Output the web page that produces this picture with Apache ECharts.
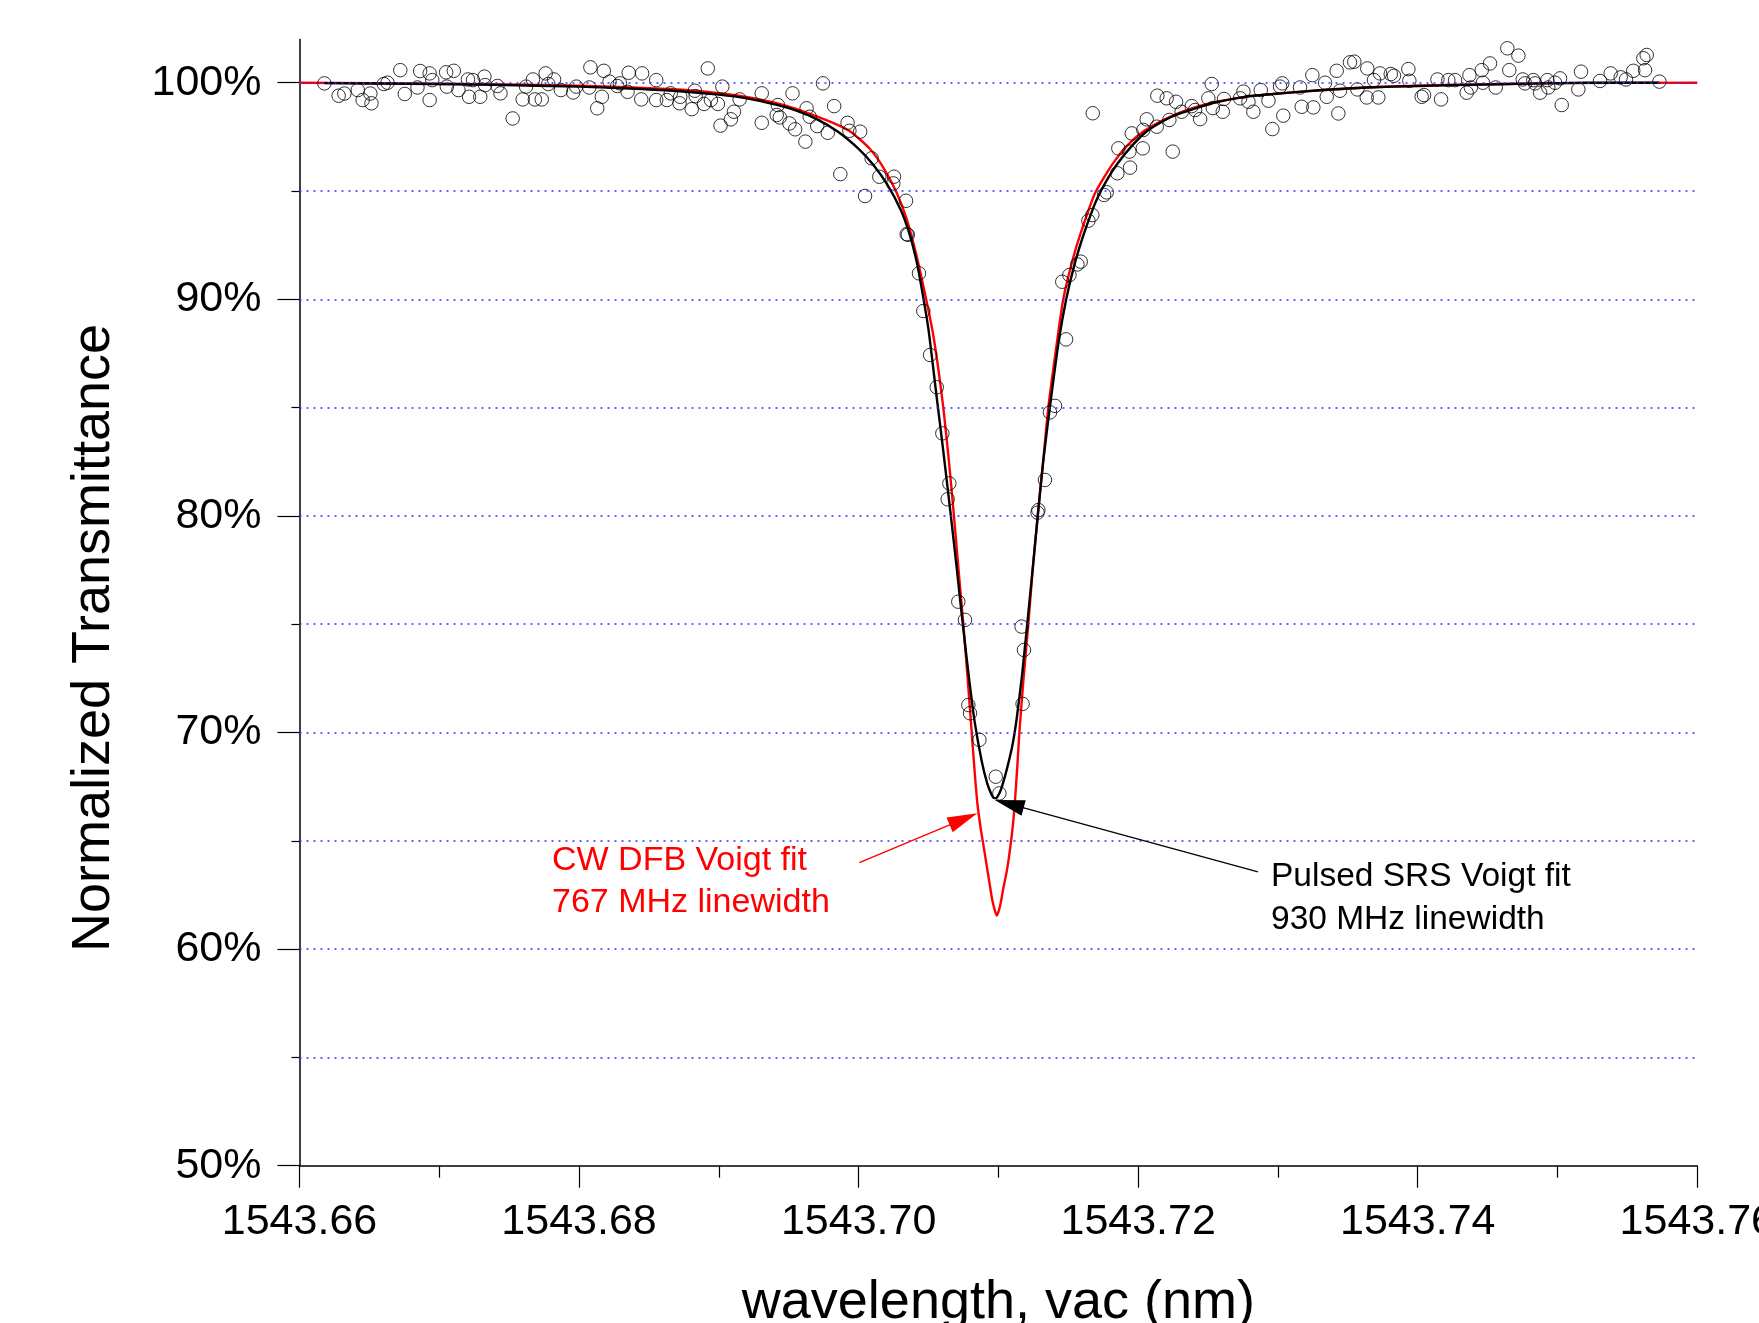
<!DOCTYPE html>
<html>
<head>
<meta charset="utf-8">
<script src="https://cdn.jsdelivr.net/npm/echarts@6.0.0/dist/echarts.min.js"></script>
<style>
html,body{margin:0;padding:0;background:#fff;}
#chart{width:1759px;height:1323px;}
</style>
</head>
<body>
<div id="chart"></div>
<script>
// ---------- data (wavelength in nm, normalized transmittance in %) ----------
const measuredLeftWing = [[1543.66178,99.97],[1543.66280,99.40],[1543.66321,99.50],[1543.66417,99.66],[1543.66452,99.20],[1543.66507,99.50],[1543.66515,99.05],[1543.66603,99.94],[1543.66630,100.00],[1543.66721,100.58],[1543.66753,99.48],[1543.66844,99.78],[1543.66863,100.54],[1543.66931,100.43],[1543.66950,100.12],[1543.66931,99.20],[1543.67049,100.48],[1543.67104,100.55],[1543.67054,99.82],[1543.67137,99.66],[1543.67205,100.15],[1543.67241,100.12],[1543.67213,99.35],[1543.67293,99.35],[1543.67323,100.28],[1543.67328,99.89],[1543.67416,99.85],[1543.67438,99.51],[1543.67525,98.35],[1543.67597,99.23],[1543.67621,99.82],[1543.67670,100.15],[1543.67684,99.23],[1543.67733,99.23],[1543.67761,100.43],[1543.67821,100.15],[1543.67780,99.94],[1543.67870,99.66],[1543.67958,99.55],[1543.67980,99.82],[1543.68081,100.71],[1543.68073,99.78],[1543.68163,99.35],[1543.68177,100.55],[1543.68130,98.82],[1543.68218,100.05],[1543.68273,99.85],[1543.68292,99.97],[1543.68355,100.46],[1543.68347,99.58],[1543.68451,100.43],[1543.68445,99.23],[1543.68552,100.12],[1543.68552,99.20],[1543.68628,99.20],[1543.68656,99.51],[1543.68719,99.05],[1543.68724,99.35],[1543.68806,98.78],[1543.68828,99.63],[1543.68834,99.38],[1543.68894,99.02],[1543.68921,100.66],[1543.68943,99.20],[1543.68993,99.02],[1543.69025,99.82],[1543.69012,98.02],[1543.69086,98.31],[1543.69108,98.66],[1543.69149,99.23],[1543.69307,99.51],[1543.69307,98.15],[1543.69422,98.97],[1543.69414,98.51],[1543.69436,98.40],[1543.69505,98.12],[1543.69527,99.51],[1543.69546,97.85],[1543.69619,97.28],[1543.69628,98.82],[1543.69650,98.43],[1543.69704,98.00],[1543.69745,99.97],[1543.69779,97.69],[1543.69825,98.92],[1543.69921,98.15],[1543.69934,97.78],[1543.70011,97.74],[1543.69869,95.78],[1543.70093,96.51],[1543.70148,95.66],[1543.70046,94.77]];

const measuredDip = [[1543.70253,95.66],[1543.70248,95.35],[1543.70339,94.55],[1543.70344,93.01],[1543.70352,92.98],[1543.70432,91.20],[1543.70463,89.46],[1543.70511,87.43],[1543.70559,85.94],[1543.70599,83.81],[1543.70649,81.50],[1543.70637,80.77],[1543.70713,76.04],[1543.70761,75.20],[1543.70785,71.27],[1543.70797,70.89],[1543.70864,69.66],[1543.70981,67.96],[1543.71007,67.19],[1543.71173,71.32],[1543.71166,74.89],[1543.71183,73.81],[1543.71280,80.15],[1543.71286,80.27],[1543.71333,81.66],[1543.71369,84.78],[1543.71405,85.08],[1543.71484,88.15],[1543.71457,90.81],[1543.71508,91.12],[1543.71565,91.61],[1543.71589,91.74],[1543.71644,93.63],[1543.71672,93.89],[1543.71756,94.82],[1543.71775,94.94],[1543.71851,95.82]];

const measuredRightWing = [[1543.71858,96.97],[1543.71937,96.82],[1543.71942,96.08],[1543.71954,97.66],[1543.72033,96.97],[1543.72037,97.82],[1543.72061,98.31],[1543.72133,97.97],[1543.72137,99.40],[1543.72204,99.28],[1543.72247,96.82],[1543.72271,99.12],[1543.72223,98.28],[1543.71675,98.59],[1543.72311,98.66],[1543.72383,98.92],[1543.72407,98.74],[1543.72443,98.32],[1543.72502,99.28],[1543.72526,99.94],[1543.72534,98.83],[1543.72605,98.66],[1543.72614,99.25],[1543.72729,99.28],[1543.72753,99.59],[1543.72789,99.12],[1543.72824,98.66],[1543.72877,99.66],[1543.72932,99.17],[1543.72960,97.86],[1543.73015,99.82],[1543.73031,99.97],[1543.73038,98.48],[1543.73158,99.78],[1543.73170,98.89],[1543.73246,100.35],[1543.73253,98.86],[1543.73337,100.00],[1543.73349,99.35],[1543.73420,100.55],[1543.73432,98.58],[1543.73444,99.63],[1543.73515,100.94],[1543.73546,100.97],[1543.73568,99.69],[1543.73635,99.32],[1543.73639,100.66],[1543.73687,100.12],[1543.73718,99.32],[1543.73730,100.43],[1543.73807,100.40],[1543.73830,100.32],[1543.73933,100.63],[1543.73940,100.09],[1543.74028,99.35],[1543.74045,99.43],[1543.74141,100.15],[1543.74167,99.23],[1543.74219,100.12],[1543.74267,100.12],[1543.74350,99.54],[1543.74370,100.35],[1543.74380,99.78],[1543.74458,100.58],[1543.74466,100.00],[1543.74517,100.89],[1543.74558,99.78],[1543.74641,101.59],[1543.74655,100.58],[1543.74720,101.25],[1543.74751,100.15],[1543.74767,99.97],[1543.74827,100.12],[1543.74839,99.97],[1543.74875,99.54],[1543.74927,100.12],[1543.74934,99.78],[1543.74982,100.00],[1543.75018,100.20],[1543.75030,98.97],[1543.75132,102.25],[1543.75149,99.69],[1543.75168,100.51],[1543.75304,100.08],[1543.75380,100.43],[1543.75435,102.25],[1543.75452,100.25],[1543.75490,100.15],[1543.75542,100.55],[1543.75614,101.13],[1543.75626,100.58],[1543.75638,101.28],[1543.75729,100.05]];

const pulsedSrsFit = [[1543.66178,99.98],[1543.668,99.95],[1543.674,99.90],[1543.680,99.82],[1543.684,99.72],[1543.687,99.62],[1543.690,99.45],[1543.692,99.28],[1543.694,99.00],[1543.6955,98.72],[1543.697,98.32],[1543.6985,97.75],[1543.700,96.95],[1543.701,96.25],[1543.702,95.35],[1543.703,94.15],[1543.7036,93.10],[1543.70415,91.75],[1543.7045,90.55],[1543.705,88.60],[1543.7056,85.40],[1543.706,83.30],[1543.7066,80.00],[1543.707,77.70],[1543.7074,75.30],[1543.7079,72.50],[1543.7083,70.50],[1543.7088,68.70],[1543.7092,67.65],[1543.7095,67.15],[1543.7097,66.97],[1543.7099,67.00],[1543.7102,67.40],[1543.7106,68.30],[1543.7110,69.40],[1543.7113,70.60],[1543.7117,72.70],[1543.7120,74.60],[1543.7124,77.20],[1543.7128,79.90],[1543.7132,82.50],[1543.7137,85.10],[1543.7143,88.00],[1543.71485,90.00],[1543.7154,91.50],[1543.7160,92.80],[1543.7166,93.90],[1543.7171,94.70],[1543.7178,95.55],[1543.7185,96.25],[1543.7195,97.05],[1543.7206,97.75],[1543.7220,98.30],[1543.7230,98.58],[1543.7245,98.90],[1543.7256,99.10],[1543.7280,99.38],[1543.7304,99.52],[1543.7330,99.65],[1543.7363,99.78],[1543.7400,99.85],[1543.7435,99.90],[1543.7480,99.96],[1543.7520,100.00],[1543.75729,100.00]];

const cwDfbFit = [[1543.660,100.00],[1543.670,99.96],[1543.680,99.86],[1543.6867,99.70],[1543.690,99.52],[1543.6922,99.32],[1543.6949,98.92],[1543.69765,98.28],[1543.6994,97.75],[1543.7008,96.95],[1543.7018,96.05],[1543.7027,94.95],[1543.70344,93.70],[1543.70415,92.00],[1543.7048,90.10],[1543.7053,88.50],[1543.7057,86.80],[1543.70606,85.00],[1543.70645,82.60],[1543.70682,80.00],[1543.70715,77.50],[1543.70749,75.00],[1543.7078,72.50],[1543.70809,70.00],[1543.7083,68.20],[1543.7085,66.70],[1543.70875,65.50],[1543.70898,64.60],[1543.7092,63.70],[1543.7094,62.90],[1543.70955,62.30],[1543.70972,61.85],[1543.70988,61.55],[1543.71004,61.80],[1543.7102,62.25],[1543.71035,62.80],[1543.7106,63.60],[1543.71085,64.70],[1543.71105,65.80],[1543.7112,67.00],[1543.71135,68.40],[1543.7115,70.00],[1543.7118,72.50],[1543.71214,75.00],[1543.71245,77.50],[1543.71281,80.00],[1543.7132,82.50],[1543.71357,85.00],[1543.7141,87.60],[1543.71464,90.00],[1543.7153,91.80],[1543.71591,93.10],[1543.71691,94.90],[1543.71822,96.30],[1543.7193,97.15],[1543.72049,97.80],[1543.72228,98.43],[1543.724,98.85],[1543.72562,99.12],[1543.728,99.38],[1543.7304,99.52],[1543.733,99.65],[1543.7363,99.78],[1543.740,99.86],[1543.744,99.92],[1543.750,99.98],[1543.760,100.00]];

const xTickValues = [1543.66, 1543.68, 1543.70, 1543.72, 1543.74, 1543.76];
const yMajorTicks = [50, 60, 70, 80, 90, 100];
const yMinorTicks = [55, 65, 75, 85, 95];
const gridLevels = [55, 60, 65, 70, 75, 80, 85, 90, 95, 100];

const cwArrow = [[1543.70005, 63.99], [1543.70750, 66.00]];
const pulsedArrow = [[1543.72857, 63.57], [1543.71077, 66.70]];

const cwLabel = ['CW DFB Voigt fit', '767 MHz linewidth'];
const pulsedLabel = ['Pulsed SRS Voigt fit', '930 MHz linewidth'];
const xTitle = 'wavelength, vac (nm)';
const yTitle = 'Normalized Transmittance';

// ---------- chart ----------
const FONT = "'Liberation Sans', Arial, Helvetica, sans-serif";
const chart = echarts.init(document.getElementById('chart'), null, {renderer: 'canvas'});

const measured = measuredLeftWing.concat(measuredDip, measuredRightWing);

const option = {
  backgroundColor: '#ffffff',
  animation: false,
  grid: {left: 299.5, top: 39.4, width: 1397.8, height: 1126.3, containLabel: false, outerBoundsMode: 'none'},
  xAxis: {
    type: 'value', min: 1543.66, max: 1543.76, interval: 0.02,
    axisLine: {lineStyle: {color: '#000', width: 1.5}},
    axisTick: {length: 22, lineStyle: {color: '#000', width: 1.2}},
    minorTick: {show: true, splitNumber: 2, length: 12, lineStyle: {color: '#000', width: 1.2}},
    axisLabel: {fontSize: 43, color: '#000', fontFamily: FONT, margin: 35,
      customValues: xTickValues, formatter: v => v.toFixed(2), showMaxLabel: true, hideOverlap: false},
    splitLine: {show: false},
    name: xTitle, nameLocation: 'middle', nameGap: 110,
    nameTextStyle: {fontSize: 54, color: '#000', fontFamily: FONT}
  },
  yAxis: [{
    type: 'value', min: 50, max: 102, interval: 10, position: 'left',
    axisLine: {show: true, lineStyle: {color: '#000', width: 1.5}},
    axisTick: {show: true, length: 22, customValues: yMajorTicks, lineStyle: {color: '#000', width: 1.2}},
    axisLabel: {fontSize: 43, color: '#000', fontFamily: FONT, margin: 38,
      customValues: yMajorTicks, formatter: v => v + '%'},
    splitLine: {show: false}
  }, {
    type: 'value', min: 50, max: 102, interval: 5, position: 'left',
    axisLine: {show: false},
    axisTick: {show: true, length: 8, customValues: yMinorTicks, lineStyle: {color: '#000', width: 1.2}},
    axisLabel: {show: false},
    splitLine: {show: false}
  }],
  series: [
    {
      name: 'grid', type: 'line', data: [], z: 1, silent: true,
      markLine: {
        silent: true, symbol: ['none', 'none'], animation: false,
        label: {show: false},
        lineStyle: {color: '#3030ff', type: [2, 5], width: 1.5},
        data: gridLevels.map(v => ({yAxis: v}))
      }
    },
    {
      name: 'CW DFB Voigt fit', type: 'line', data: cwDfbFit, z: 2,
      showSymbol: false, symbol: 'none', smooth: 0.2,
      lineStyle: {color: '#ff0000', width: 2.4},
      markLine: {
        silent: true, animation: false, symbol: ['none', 'triangle'], symbolSize: [16, 30],
        label: {show: false},
        lineStyle: {color: '#ff0000', width: 1.3, type: 'solid'},
        itemStyle: {color: '#ff0000'},
        data: [[{coord: cwArrow[0]}, {coord: cwArrow[1]}]]
      }
    },
    {
      name: 'Pulsed SRS Voigt fit', type: 'line', data: pulsedSrsFit, z: 3,
      showSymbol: false, symbol: 'none', smooth: 0.2,
      lineStyle: {color: '#000000', width: 2.4},
      markLine: {
        silent: true, animation: false, symbol: ['none', 'triangle'], symbolSize: [16, 30],
        label: {show: false},
        lineStyle: {color: '#000000', width: 1.3, type: 'solid'},
        itemStyle: {color: '#000000'},
        data: [[{coord: pulsedArrow[0]}, {coord: pulsedArrow[1]}]]
      }
    },
    {
      name: 'measured', type: 'scatter', data: measured, z: 4,
      symbol: 'circle', symbolSize: 13.5,
      itemStyle: {color: 'rgba(0,0,0,0)', borderColor: '#000', borderWidth: 1}
    }
  ],
  graphic: [
    {type: 'text', x: 94, y: 638, rotation: Math.PI / 2,
      style: {text: yTitle, fill: '#000', fontSize: 54, fontFamily: FONT, align: 'center', verticalAlign: 'middle'}},
    {type: 'text', x: 552, y: 861,
      style: {text: cwLabel[0], fill: '#ff0000', fontSize: 34, fontFamily: FONT, align: 'left', verticalAlign: 'middle'}},
    {type: 'text', x: 552, y: 903,
      style: {text: cwLabel[1], fill: '#ff0000', fontSize: 34, fontFamily: FONT, align: 'left', verticalAlign: 'middle'}},
    {type: 'text', x: 1271, y: 877,
      style: {text: pulsedLabel[0], fill: '#000', fontSize: 33.5, fontFamily: FONT, align: 'left', verticalAlign: 'middle'}},
    {type: 'text', x: 1271, y: 920,
      style: {text: pulsedLabel[1], fill: '#000', fontSize: 33.5, fontFamily: FONT, align: 'left', verticalAlign: 'middle'}}
  ]
};
chart.setOption(option);
</script>
</body>
</html>
